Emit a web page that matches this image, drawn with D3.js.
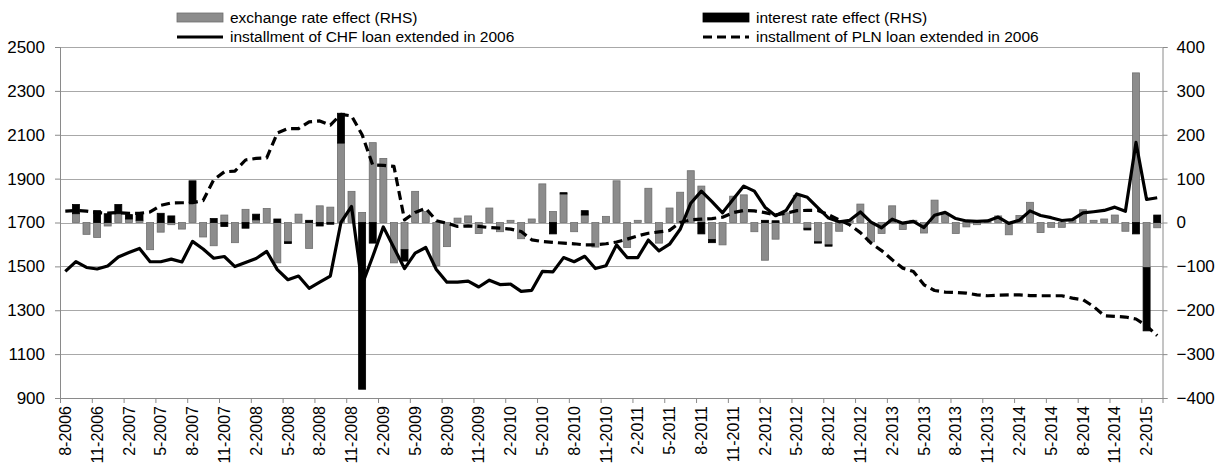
<!DOCTYPE html>
<html>
<head>
<meta charset="utf-8">
<script src="https://cdn.jsdelivr.net/npm/d3@7"></script>
<style>
  body { margin: 0; background: #fff; }
  svg text { font-family: 'Liberation Sans', Arial, sans-serif; fill: #000; }
</style>
</head>
<body>
<div id="chart"></div>
<script>
// monthly categories 8-2006 .. 3-2015
const categories = d3.timeMonth.range(new Date(2006, 7, 1), new Date(2015, 3, 1))
  .map(d => (d.getMonth() + 1) + '-' + d.getFullYear())

// RHS, PLN
const exchangeEffect = [
  0, 20, -27, -34, -8, 20, 8, 5, -62, -22,
  -5, -15, 45, -33, -53, 17, -46, 30, 6, 32,
  -92, -44, 19, -59, 38, 35, 181, 71, 23, 182,
  146, -92, -62, 71, 25, -98, -55, 10, 15, -25,
  33, -21, 5, -37, 8, 88, 25, 65, -21, 17,
  -56, 14, 95, -57, 5, 78, -47, 33, 69, 118,
  83, -39, -51, 60, 63, -21, -86, -38, 22, 62,
  -13, -44, -51, -20, 4, 42, -44, -25, 38, -16,
  5, -24, 51, 21, -25, -10, -5, 2, 15, -28,
  16, 46, -23, -11, -11, 6, 29, 5, 8, 17,
  -20, 341, -103, -12
]

const interestEffect = [
  0, 21, 0, 27, 20, 21, 10, 18, 0, 21,
  15, 0, 50, 0, 9, -9, 0, -13, 13, 0,
  8, -4, 0, 5, -8, -4, 68, 0, -380, -47,
  0, 0, -26, 0, 0, 0, 0, 0, 0, 0,
  0, 0, 0, 0, 0, 0, -26, 3, 0, 10,
  0, 0, 0, 0, 0, 0, 0, 0, 0, 0,
  -26, -7, 0, 0, 0, 0, 5, 4, 0, 0,
  -4, -3, -3, 0, 0, 0, 0, 0, 0, 0,
  0, 0, 0, 0, 0, 0, 0, 0, 0, 0,
  0, 0, 0, 0, 0, 0, 0, 0, 0, 0,
  0, -26, -144, 17
]

// LHS, PLN
const chfInstallment = [
  1477, 1522, 1495, 1488, 1502, 1543, 1563, 1582, 1521, 1521,
  1533, 1520, 1614, 1579, 1537, 1545, 1499, 1518, 1536, 1568,
  1485, 1439, 1456, 1400, 1428, 1456, 1700, 1773, 1416, 1545,
  1680, 1585, 1490, 1560, 1586, 1486, 1428, 1428, 1433, 1406,
  1437, 1417, 1419, 1386, 1391, 1477, 1475, 1540, 1521, 1546,
  1490, 1503, 1598, 1540, 1540, 1620, 1571, 1601, 1669, 1788,
  1843, 1795, 1744, 1806, 1866, 1843, 1770, 1731, 1755, 1830,
  1815, 1767, 1720, 1703, 1710, 1748, 1702, 1676, 1715, 1697,
  1705, 1677, 1733, 1746, 1718, 1707, 1705, 1707, 1725, 1696,
  1710, 1753, 1732, 1722, 1709, 1713, 1744, 1749, 1755, 1770,
  1751, 2065, 1805, 1813
]

const plnInstallment = [
  1752, 1755, 1752, 1745, 1743, 1745, 1742, 1742, 1748, 1778,
  1789, 1790, 1790, 1800, 1895, 1931, 1934, 1985, 1992, 1995,
  2108, 2128, 2128, 2159, 2163, 2144, 2193, 2186, 2100, 1962,
  1960, 1956, 1712, 1746, 1765, 1708, 1697, 1682, 1685, 1682,
  1677, 1674, 1670, 1659, 1621, 1613, 1609, 1606, 1603, 1598,
  1598, 1603, 1611, 1624, 1639, 1651, 1657, 1664, 1700, 1712,
  1715, 1718, 1724, 1745, 1755, 1753, 1745, 1735, 1742, 1754,
  1755, 1755, 1735, 1712, 1689, 1654, 1606, 1572, 1530, 1492,
  1477, 1416, 1390, 1383, 1381, 1378, 1370, 1366, 1369, 1370,
  1370, 1367, 1366, 1366, 1366, 1355, 1348, 1317, 1275, 1272,
  1269, 1260, 1229, 1184
]

const leftTicks = [900, 1100, 1300, 1500, 1700, 1900, 2100, 2300, 2500]
const rightTicks = [-400, -300, -200, -100, 0, 100, 200, 300, 400]
const tickLabels = categories.filter((d, i) => i % 3 === 0)

const legendItems = [
  { name: 'exchange rate effect (RHS)', type: 'bar', color: '#8c8c8c', col: 0, row: 0 },
  { name: 'interest rate effect (RHS)', type: 'bar', color: '#000', col: 1, row: 0 },
  { name: 'installment of CHF loan extended in 2006', type: 'line', dash: null, col: 0, row: 1 },
  { name: 'installment of PLN loan extended in 2006', type: 'line', dash: '9,5', col: 1, row: 1 }
]

const width = 1220
const height = 469
const margin = { top: 47, right: 57.5, bottom: 71, left: 60 }
const innerW = width - margin.left - margin.right
const innerH = height - margin.top - margin.bottom

const svg = d3.select('#chart').append('svg')
  .attr('width', width)
  .attr('height', height)

const x = d3.scaleBand()
  .domain(categories)
  .range([margin.left, margin.left + innerW])
  .paddingInner(0.34)
  .paddingOuter(0.17)

const xi = d3.scaleLinear()
  .domain([0, categories.length])
  .range([margin.left, margin.left + innerW])

const yL = d3.scaleLinear().domain([900, 2500]).range([margin.top + innerH, margin.top])
const yR = d3.scaleLinear().domain([-400, 400]).range([margin.top + innerH, margin.top])

// gridlines
svg.append('g')
  .selectAll('line')
  .data(leftTicks.slice(1))
  .join('line')
    .attr('x1', margin.left)
    .attr('x2', margin.left + innerW)
    .attr('y1', d => Math.round(yL(d)) + 0.5)
    .attr('y2', d => Math.round(yL(d)) + 0.5)
    .attr('stroke', '#a8a8a8')
    .attr('stroke-width', 1)

// stacked bars (excel style: positives up from 0, negatives down from 0)
let stacks = categories.map((c, i) => {
  let pos = 0, neg = 0
  let out = []
  ;[['exch', exchangeEffect[i]], ['int', interestEffect[i]]].forEach(([key, v]) => {
    if (!v) return
    if (v > 0) { out.push({ key, c, y0: pos, y1: pos + v }); pos += v }
    else { out.push({ key, c, y0: neg + v, y1: neg }); neg += v }
  })
  return out
}).flat()

svg.append('g')
  .selectAll('rect')
  .data(stacks)
  .join('rect')
    .attr('x', d => x(d.c))
    .attr('width', x.bandwidth())
    .attr('y', d => yR(d.y1))
    .attr('height', d => yR(d.y0) - yR(d.y1))
    .attr('fill', d => d.key === 'exch' ? '#8c8c8c' : '#000')
    .attr('stroke', d => d.key === 'exch' ? '#6e6e6e' : '#000')
    .attr('stroke-width', 0.8)

// lines
const line = d3.line()
  .x((d, i) => x(categories[i]) + x.bandwidth() / 2)
  .y(d => yL(d))

svg.append('path')
  .datum(chfInstallment)
  .attr('d', line)
  .attr('fill', 'none')
  .attr('stroke', '#000')
  .attr('stroke-width', 3.2)
  .attr('stroke-linejoin', 'round')

svg.append('path')
  .datum(plnInstallment)
  .attr('d', line)
  .attr('fill', 'none')
  .attr('stroke', '#000')
  .attr('stroke-width', 3.2)
  .attr('stroke-dasharray', '9,5')
  .attr('stroke-linejoin', 'round')

// axes
const axisColor = '#8a8a8a'

let gl = svg.append('g')
  .attr('transform', `translate(${margin.left},0)`)
  .call(d3.axisLeft(yL).tickValues(leftTicks).tickSize(5).tickPadding(10).tickFormat(d3.format('d')))
gl.selectAll('text').attr('font-size', 17)

let gr = svg.append('g')
  .attr('transform', `translate(${margin.left + innerW},0)`)
  .call(d3.axisRight(yR).tickValues(rightTicks).tickSize(5).tickPadding(9).tickFormat(d3.format('d')))
gr.selectAll('text').attr('font-size', 17)

let gbTicks = svg.append('g')
  .attr('transform', `translate(0,${margin.top + innerH})`)
  .call(d3.axisBottom(xi).tickValues(d3.range(0, categories.length, 3)).tickSize(5).tickFormat(''))

let gb = svg.append('g')
  .attr('transform', `translate(0,${margin.top + innerH})`)
  .call(d3.axisBottom(x).tickValues(tickLabels).tickSize(0).tickPadding(0))
gb.select('.domain').remove()
gb.selectAll('text')
  .attr('font-size', 16)
  .attr('text-anchor', 'end')
  .attr('transform', 'translate(0,8) rotate(-90)')
  .attr('dy', '0.35em')
  .attr('y', 0)
  .attr('x', 0)

;[gl, gr, gbTicks].forEach(g => {
  g.selectAll('.domain').attr('stroke', axisColor)
  g.selectAll('.tick line').attr('stroke', axisColor)
})
svg.selectAll('.tick text').attr('fill', '#000').style('font-family', "'Liberation Sans', Arial, sans-serif")

// legend
const legend = svg.append('g')
const colX = [177, 703]
const rowY = [17.5, 37]

legendItems.forEach(item => {
  let lx = colX[item.col], ly = rowY[item.row]
  if (item.type === 'bar') {
    legend.append('rect')
      .attr('x', lx).attr('y', ly - 4.5)
      .attr('width', 46).attr('height', 9)
      .attr('fill', item.color)
      .attr('stroke', item.color === '#000' ? '#000' : '#6e6e6e')
      .attr('stroke-width', 0.8)
  } else {
    legend.append('line')
      .attr('x1', lx).attr('x2', lx + 46)
      .attr('y1', ly).attr('y2', ly)
      .attr('stroke', '#000')
      .attr('stroke-width', 3.2)
      .attr('stroke-dasharray', item.dash)
  }
  legend.append('text')
    .attr('x', lx + 53)
    .attr('y', ly)
    .attr('dy', '0.35em')
    .attr('font-size', 15.5)
    .text(item.name)
})
</script>
</body>
</html>
